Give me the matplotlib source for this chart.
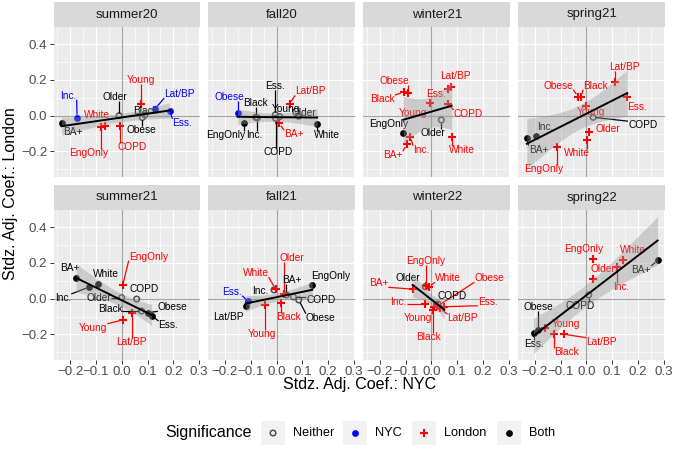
import numpy as np
import matplotlib
matplotlib.use("Agg")
import matplotlib.pyplot as plt
from matplotlib.ticker import MultipleLocator, FuncFormatter
from matplotlib.patches import Rectangle

plt.rcParams['font.family'] = ['Liberation Sans', 'DejaVu Sans']

# ---------------- data ----------------
variables = ["Inc.", "BA+", "White", "EngOnly", "COPD", "Older", "Obese",
             "Young", "Black", "Lat/BP", "Ess."]
seasons = ["summer20", "fall20", "winter21", "spring21",
           "summer21", "fall21", "winter22", "spring22"]

nyc = {
    "summer20": [-0.173, -0.233, -0.065, -0.080, -0.006, -0.010, 0.080, 0.074, 0.090, 0.128, 0.186],
    "fall20":   [-0.075, 0.009, 0.157, -0.126, -0.004, 0.085, -0.151, 0.012, -0.081, 0.050, -0.005],
    "winter21": [-0.082, -0.096, 0.078, -0.109, 0.063, 0.038, -0.092, -0.005, -0.108, 0.076, 0.063],
    "spring21": [-0.196, -0.231, 0.004, -0.112, 0.026, 0.009, -0.032, 0.000, -0.019, 0.109, 0.158],
    "summer21": [-0.128, -0.177, -0.090, 0.004, 0.058, 0.000, 0.103, 0.004, 0.077, 0.039, 0.116],
    "fall21":   [-0.010, 0.038, -0.004, 0.138, 0.065, 0.028, 0.086, -0.045, 0.016, -0.120, -0.111],
    "winter22": [-0.024, -0.073, -0.011, -0.021, 0.025, -0.024, 0.024, 0.011, 0.005, 0.033, 0.050],
    "spring22": [0.119, 0.276, 0.143, 0.026, 0.009, 0.026, -0.186, -0.160, -0.124, -0.086, -0.205],
}
london = {
    "summer20": [-0.011, -0.043, -0.055, -0.065, -0.058, 0.000, -0.010, 0.066, 0.004, 0.036, 0.026],
    "fall20":   [-0.012, -0.043, -0.047, -0.039, -0.015, -0.003, 0.013, -0.005, -0.009, 0.066, 0.005],
    "winter21": [-0.117, -0.160, -0.121, -0.098, 0.065, -0.024, 0.125, 0.069, 0.131, 0.162, 0.147],
    "spring21": [-0.114, -0.124, -0.137, -0.174, -0.009, -0.093, 0.107, 0.055, 0.107, 0.191, 0.107],
    "summer21": [0.064, 0.118, 0.081, 0.077, -0.002, 0.006, -0.078, -0.119, -0.069, -0.082, -0.095],
    "fall21":   [0.049, 0.021, 0.054, 0.077, 0.010, 0.026, -0.007, -0.035, -0.022, -0.041, -0.013],
    "winter22": [-0.031, 0.053, 0.064, 0.071, -0.030, 0.067, -0.041, -0.045, -0.063, -0.054, -0.045],
    "spring22": [0.176, 0.214, 0.217, 0.223, 0.021, 0.109, -0.176, -0.163, -0.199, -0.199, -0.191],
}
significance = {
    "summer20": ["NYC", "Both", "London", "London", "London", "Neither", "Neither", "London", "Neither", "NYC", "NYC"],
    "fall20":   ["Neither", "London", "Both", "Both", "Neither", "Neither", "NYC", "Neither", "Neither", "London", "Neither"],
    "winter21": ["London", "London", "London", "Both", "London", "Neither", "London", "London", "London", "London", "London"],
    "spring21": ["Both", "Both", "London", "London", "Neither", "London", "London", "London", "London", "London", "London"],
    "summer21": ["Both", "Both", "Both", "London", "Neither", "Neither", "Both", "London", "Neither", "London", "Both"],
    "fall21":   ["Neither", "Neither", "London", "Both", "Neither", "London", "Neither", "London", "London", "Both", "NYC"],
    "winter22": ["London", "London", "London", "London", "Neither", "Neither", "London", "London", "London", "London", "London"],
    "spring22": ["London", "Both", "London", "London", "Neither", "London", "Both", "London", "London", "London", "Both"],
}
sig_levels = ["Neither", "NYC", "London", "Both"]

# ---------------- layout (label placement, like ggrepel) ----------------
label_pos = {
    "summer20": [(-0.206, 0.111), (-0.191, -0.090), (-0.096, 0.004), (-0.128, -0.209), (0.042, -0.175),
                 (-0.026, 0.104), (0.077, -0.081), (0.073, 0.202), (0.093, 0.027), (0.224, 0.121), (0.235, -0.040)],
    "fall20":   [(-0.085, -0.109), (0.067, -0.103), (0.195, -0.109), (-0.196, -0.109), (0.006, -0.203),
                 (0.105, 0.014), (-0.183, 0.107), (0.035, 0.036), (-0.081, 0.070), (0.131, 0.136), (-0.006, 0.164)],
    "winter21": [(-0.040, -0.190), (-0.149, -0.222), (0.117, -0.190), (-0.165, -0.047), (0.143, 0.010),
                 (0.007, -0.094), (-0.143, 0.192), (-0.072, 0.014), (-0.190, 0.093), (0.094, 0.220), (0.017, 0.121)],
    "spring21": [(-0.160, -0.062), (-0.186, -0.190), (-0.035, -0.207), (-0.167, -0.297), (0.218, -0.053),
                 (0.083, -0.077), (-0.109, 0.168), (0.019, 0.023), (0.035, 0.168), (0.147, 0.271), (0.196, 0.047)],
    "summer21": [(-0.227, 0.004), (-0.200, 0.170), (-0.060, 0.136), (0.103, 0.235), (0.086, 0.053),
                 (-0.090, 0.006), (0.198, -0.048), (-0.110, -0.162), (-0.045, -0.059), (0.039, -0.244), (0.181, -0.147)],
    "fall21":   [(-0.062, 0.043), (0.058, 0.104), (-0.081, 0.142), (0.209, 0.127), (0.171, -0.007),
                 (0.058, 0.229), (0.171, -0.106), (-0.055, -0.197), (0.045, -0.101), (-0.185, -0.101), (-0.172, 0.039)],
    "winter22": [(-0.127, -0.017), (-0.205, 0.086), (0.063, 0.114), (-0.024, 0.212), (0.079, 0.015),
                 (-0.092, 0.114), (0.224, 0.114), (-0.053, -0.109), (-0.011, -0.212), (0.121, -0.109), (0.218, -0.017)],
    "spring22": [(0.136, 0.064), (0.213, 0.160), (0.181, 0.272), (-0.009, 0.278), (-0.026, -0.041),
                 (0.065, 0.164), (-0.185, -0.045), (-0.081, -0.141), (-0.078, -0.296), (0.058, -0.240), (-0.203, -0.253)],
}

# ---------------- styles ----------------
W, H = 674, 449
sig_style = {
    "Neither": dict(marker="o", s=16, facecolors="none", edgecolors="#4D4D4D", linewidths=1.1),
    "NYC": dict(marker="o", s=24, c="#0000FF", linewidths=0),
    "London": dict(marker="+", s=38, c="#FF0000", linewidths=1.5),
    "Both": dict(marker="o", s=24, c="#000000", linewidths=0),
}
text_color = {"Neither": "#000000", "NYC": "#0000FF", "London": "#FF0000", "Both": "#000000"}

fig = plt.figure(figsize=(W / 100, H / 100), dpi=100)


def rect(left, top, w, h):
    return [left / W, (H - top - h) / H, w / W, h / H]


col_left = [53.5 + i * 154.9 for i in range(4)]
panel_w = 146.9
row_top = [27, 210]
panel_h = 150
strip_h = 25
xlim = (-0.2643, 0.305)
ylim = (-0.3425, 0.4955)


def fmt(v, pos):
    s = f"{v:.1f}"
    if s == "-0.0":
        s = "0.0"
    return s.replace("-", "\u2212")


axes = []
for k, season in enumerate(seasons):
    r, c = divmod(k, 4)
    ax = fig.add_axes(rect(col_left[c], row_top[r], panel_w, panel_h))
    ax.set_facecolor("#EBEBEB")
    for sp in ax.spines.values():
        sp.set_visible(False)
    ax.set_xlim(*xlim)
    ax.set_ylim(*ylim)
    ax.xaxis.set_major_locator(MultipleLocator(0.1))
    ax.xaxis.set_minor_locator(MultipleLocator(0.05))
    ax.yaxis.set_major_locator(MultipleLocator(0.2))
    ax.yaxis.set_minor_locator(MultipleLocator(0.1))
    ax.grid(which="major", color="white", lw=0.85, zorder=0)
    ax.grid(which="minor", color="white", lw=0.45, zorder=0)
    ax.set_axisbelow(True)
    ax.tick_params(which="minor", length=0)
    ax.tick_params(which="major", length=3, width=0.7, color="#333333",
                   labelsize=9.6, labelcolor="#4D4D4D", pad=1.5)
    ax.xaxis.set_major_formatter(FuncFormatter(fmt))
    ax.yaxis.set_major_formatter(FuncFormatter(fmt))
    if c != 0:
        ax.tick_params(axis="y", length=0, labelleft=False)
    if r != 1:
        ax.tick_params(axis="x", length=0, labelbottom=False)

    ax.axhline(0, color="#A3A3A3", lw=0.8, zorder=1)
    ax.axvline(0, color="#A3A3A3", lw=0.8, zorder=1)

    x = np.array(nyc[season])
    y = np.array(london[season])
    sig = significance[season]

    for lev in sig_levels:
        m = np.array([s == lev for s in sig])
        if m.any():
            ax.scatter(x[m], y[m], zorder=3, **sig_style[lev])

    # linear fit with 95% confidence band (as geom_smooth(method = "lm"))
    n = len(x)
    slope, intercept = np.polyfit(x, y, 1)
    resid = y - (slope * x + intercept)
    s_err = np.sqrt(np.sum(resid ** 2) / (n - 2))
    sxx = np.sum((x - x.mean()) ** 2)
    xs = np.linspace(x.min(), x.max(), 80)
    ys = slope * xs + intercept
    se = s_err * np.sqrt(1.0 / n + (xs - x.mean()) ** 2 / sxx)
    tval = 2.262
    ax.fill_between(xs, ys - tval * se, ys + tval * se, color="#999999",
                    alpha=0.4, lw=0, zorder=5)
    ax.plot(xs, ys, color="black", lw=1.4, zorder=6)

    # strip
    sax = fig.add_axes(rect(col_left[c], row_top[r] - strip_h, panel_w, strip_h))
    sax.set_facecolor("#D9D9D9")
    sax.set_xticks([])
    sax.set_yticks([])
    for sp in sax.spines.values():
        sp.set_visible(False)
    sax.text(0.5, 0.5, season, ha="center", va="center", fontsize=9.5,
             color="#1A1A1A", transform=sax.transAxes)
    axes.append(ax)

# labels
texts = []
for k, season in enumerate(seasons):
    ax = axes[k]
    for i, var in enumerate(variables):
        lx, ly = label_pos[season][i]
        col = text_color[significance[season][i]]
        t = ax.text(lx, ly, var, ha="center", va="center", fontsize=7.3,
                    color=col, zorder=4)
        texts.append((ax, t, nyc[season][i], london[season][i], col))

fig.canvas.draw()
renderer = fig.canvas.get_renderer()
for ax, t, px, py, col in texts:
    bb = t.get_window_extent(renderer)
    dx, dy = ax.transData.transform((px, py))
    cx = min(max(dx, bb.x0), bb.x1)
    cy = min(max(dy, bb.y0 + 1), bb.y1 - 1)
    dist = np.hypot(cx - dx, cy - dy)
    if dist > 7:
        f = 3.0 / dist
        sx, sy = dx + (cx - dx) * f, dy + (cy - dy) * f
        p0 = ax.transData.inverted().transform((sx, sy))
        p1 = ax.transData.inverted().transform((cx, cy))
        ax.plot([p0[0], p1[0]], [p0[1], p1[1]], color=col, lw=0.9, zorder=3.5,
                solid_capstyle="butt")

# axis titles
fig.text((53.5 + 665.6) / 2 / W, (H - 384) / H, "Stdz. Adj. Coef.: NYC",
         ha="center", va="center", fontsize=11.5, color="black")
fig.text(11 / W, (H - 193.5) / H, "Stdz. Adj. Coef.: London", ha="center",
         va="center", rotation=90, fontsize=11.5, color="black")

# legend (drawn like ggplot's bottom legend)
lax = fig.add_axes([0, 0, 1, 1], zorder=-1)
lax.set_xlim(0, W)
lax.set_ylim(H, 0)
lax.axis("off")
ly = 433
lax.text(165.5, ly, "Significance", ha="left", va="center", fontsize=11.5)
key_x = [261, 343, 411.6, 497]
for lev, kx in zip(sig_levels, key_x):
    lax.add_patch(Rectangle((kx, ly - 12), 24, 24, facecolor="#F2F2F2", edgecolor="none"))
    lax.scatter([kx + 12], [ly], **sig_style[lev])
    lax.text(kx + 32, ly, lev, ha="left", va="center", fontsize=9.2)

fig.savefig("out.png", dpi=100)
